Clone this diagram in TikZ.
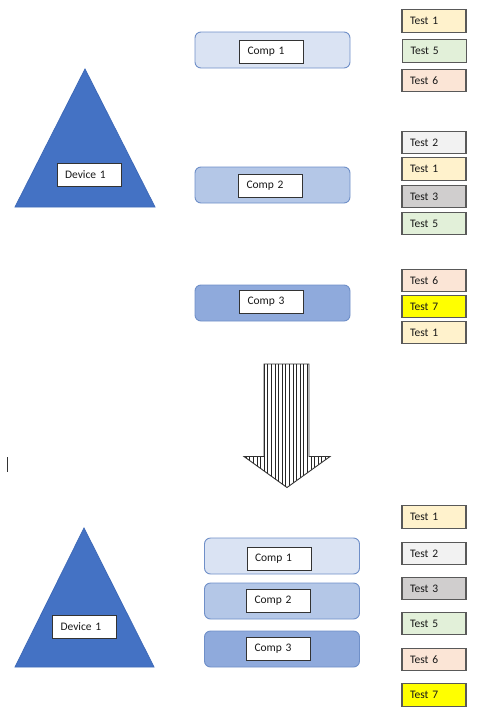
\documentclass[tikz,border=0pt]{standalone}
\usepackage{fontspec}
\setmainfont{Carlito}
\newcommand{\labfont}{\fontsize{11.5pt}{13pt}\selectfont}
\definecolor{tri}{HTML}{4472C4}
\definecolor{triedge}{HTML}{3F6AB8}
\definecolor{cA}{HTML}{DAE3F3}
\definecolor{cB}{HTML}{B4C7E7}
\definecolor{cC}{HTML}{8FAADC}
\definecolor{cedge}{HTML}{6F8FC8}
\definecolor{tone}{HTML}{FFF2CC}
\definecolor{ttwo}{HTML}{F2F2F2}
\definecolor{tthree}{HTML}{D0CECE}
\definecolor{tfive}{HTML}{E2F0D9}
\definecolor{tsix}{HTML}{FBE5D6}
\definecolor{tseven}{HTML}{FFFF00}
\definecolor{tedge}{HTML}{595959}
\tikzset{
  compbox/.style={draw=cedge, line width=0.9pt, rounded corners=6pt, minimum width=155pt, minimum height=36pt, inner sep=0pt},
  lbl/.style={draw=black!80, fill=white, line width=1pt, minimum height=23pt, text width=48pt, inner xsep=8pt, inner ysep=0pt, align=left, font=\labfont, text=black!90},
  testbox/.style={draw=tedge, line width=1.1pt, minimum height=22.5pt, text width=48pt, inner xsep=8pt, inner ysep=0pt, align=left, font=\labfont, text=black!90},
  tri/.style={fill=tri, draw=triedge, line width=0.8pt, line join=miter}
}
\begin{document}
\begin{tikzpicture}[x=1pt,y=-1pt]
\useasboundingbox (0,0) rectangle (491,720);
% ---------- top section ----------
\coordinate (t1a) at (85,69);
\coordinate (t1b) at (15,207);
\coordinate (t1c) at (155,207);
\draw[tri] (t1a) -- (t1b) -- (t1c) -- cycle;
\node[lbl] (dev1) at (89,174.5) {Device 1};

\node[compbox, fill=cA] (c1) at (272.5,50) {};
\node[compbox, fill=cB] (c2) at (272.5,185) {};
\node[compbox, fill=cC] (c3) at (272.5,303) {};
\node[lbl] (c1l) at (271.5,51.5) {Comp 1};
\node[lbl] (c2l) at (270.5,185.5) {Comp 2};
\node[lbl] (c3l) at (271.5,301.5) {Comp 3};

\node[testbox, fill=tone]   (ta1) at (434,21)    {Test 1};
\node[testbox, fill=tfive]  (ta2) at (434.5,51)  {Test 5};
\node[testbox, fill=tsix]   (ta3) at (434,80.5)  {Test 6};
\node[testbox, fill=ttwo]   (tb1) at (434,142.5) {Test 2};
\node[testbox, fill=tone]   (tb2) at (434,169)   {Test 1};
\node[testbox, fill=tthree] (tb3) at (434,196.5) {Test 3};
\node[testbox, fill=tfive]  (tb4) at (434,223.5) {Test 5};
\node[testbox, fill=tsix]   (tc1) at (434,280.5) {Test 6};
\node[testbox, fill=tseven] (tc2) at (434,306.5) {Test 7};
\node[testbox, fill=tone]   (tc3) at (434,332.5) {Test 1};

% ---------- block arrow ----------
\coordinate (a1) at (264,364);
\coordinate (a2) at (309,364);
\coordinate (a3) at (309,456.5);
\coordinate (a4) at (330,456.5);
\coordinate (a5) at (287,487.5);
\coordinate (a6) at (244,456.5);
\coordinate (a7) at (264,456.5);
\begin{scope}
  \clip (a1) -- (a2) -- (a3) -- (a4) -- (a5) -- (a6) -- (a7) -- cycle;
  \foreach \x in {246,249.6,...,330} {\draw[line width=0.6pt, black!85] (\x,360) -- (\x,490);}
\end{scope}
\draw[line width=0.9pt, black!80, line join=miter] (a1) -- (a2) -- (a3) -- (a4) -- (a5) -- (a6) -- (a7) -- cycle;

% cursor mark
\coordinate (cur1) at (7,457);
\coordinate (cur2) at (7,472);
\draw[line width=0.8pt, black!80] (cur1) -- (cur2);

% ---------- bottom section ----------
\coordinate (t2a) at (84,528);
\coordinate (t2b) at (15,667);
\coordinate (t2c) at (154,667);
\draw[tri] (t2a) -- (t2b) -- (t2c) -- cycle;
\node[lbl] (dev2) at (84.5,627) {Device 1};

\node[compbox, fill=cA] (d1) at (282,556) {};
\node[compbox, fill=cB] (d2) at (282,601) {};
\node[compbox, fill=cC] (d3) at (282,649) {};
\node[lbl] (d1l) at (279,558.5) {Comp 1};
\node[lbl] (d2l) at (278.5,600.5) {Comp 2};
\node[lbl] (d3l) at (278.5,648.5) {Comp 3};

\node[testbox, fill=tone]   (u1) at (434,517)   {Test 1};
\node[testbox, fill=ttwo]   (u2) at (434,553.5) {Test 2};
\node[testbox, fill=tthree] (u3) at (434,588.5) {Test 3};
\node[testbox, fill=tfive]  (u4) at (434,623.5) {Test 5};
\node[testbox, fill=tsix]   (u5) at (434,659.5) {Test 6};
\node[testbox, fill=tseven] (u6) at (434,695)   {Test 7};
\end{tikzpicture}
\end{document}
